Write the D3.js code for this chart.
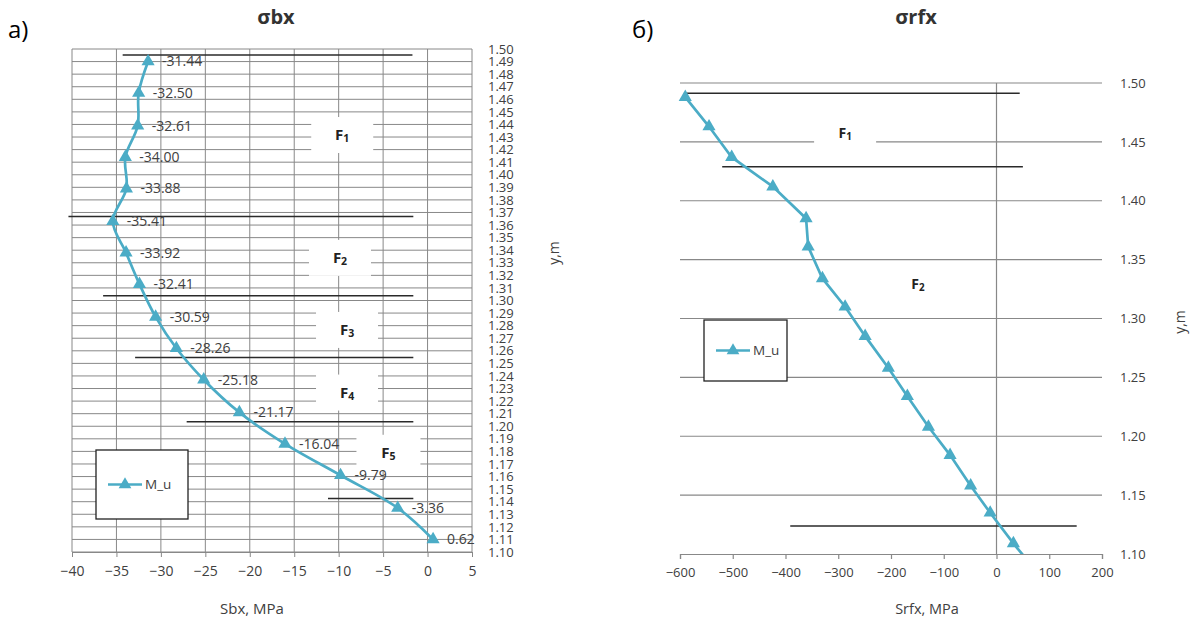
<!DOCTYPE html>
<html><head><meta charset="utf-8">
<script src="https://cdn.jsdelivr.net/npm/d3@7"></script>
<style>
body{margin:0;background:#fff;}
text{font-family:"Open Sans","DejaVu Sans",sans-serif;}
</style></head>
<body><svg id="c" width="1193" height="623"></svg>
<script>
// ---------- DATA ----------
// Left chart (σbx)
const leftY = [1.490,1.465,1.439,1.414,1.389,1.363,1.338,1.313,1.287,1.262,1.237,1.211,1.186,1.161,1.135,1.110];
const leftSbx = [-31.44,-32.50,-32.61,-34.00,-33.88,-35.41,-33.92,-32.41,-30.59,-28.26,-25.18,-21.17,-16.04,-9.79,-3.36,0.62];
const leftXTicks = [-40,-35,-30,-25,-20,-15,-10,-5,0,5];
const leftYTicks = [1.50,1.49,1.48,1.47,1.46,1.45,1.44,1.43,1.42,1.41,1.40,1.39,1.38,1.37,1.36,1.35,1.34,1.33,1.32,1.31,1.30,1.29,1.28,1.27,1.26,1.25,1.24,1.23,1.22,1.21,1.20,1.19,1.18,1.17,1.16,1.15,1.14,1.13,1.12,1.11,1.10];
const leftBounds = [
  {y:1.4952,x1:-34.3,x2:-1.7},{y:1.3667,x1:-40.4,x2:-1.6},{y:1.3037,x1:-36.5,x2:-1.6},
  {y:1.2546,x1:-32.9,x2:-1.6},{y:1.2035,x1:-27.1,x2:-1.6},{y:1.1425,x1:-11.2,x2:-1.6}];
const leftZones = [
  {n:"1",x:-9.6,y:1.4316},{n:"2",x:-9.85,y:1.3339},{n:"3",x:-9.06,y:1.2766},
  {n:"4",x:-9.06,y:1.2268},{n:"5",x:-4.4,y:1.1789}];

// Right chart (σrfx)
const rightY = [1.488,1.463,1.437,1.412,1.385,1.361,1.334,1.310,1.285,1.258,1.234,1.208,1.184,1.158,1.135,1.109,1.084];
const rightSrfx = [-590,-545,-502,-424,-361,-357,-330,-287,-249,-205,-169,-129,-88,-49,-12,32,78];
const rightXTicks = [-600,-500,-400,-300,-200,-100,0,100,200];
const rightYTicks = [1.50,1.45,1.40,1.35,1.30,1.25,1.20,1.15,1.10];
const rightBounds = [{y:1.4913,x1:-590,x2:44},{y:1.4289,x1:-520,x2:50},{y:1.1238,x1:-391,x2:152}];
const rightZones = [{n:"1",x:-287,y:1.4575},{n:"2",x:-149,y:1.3293}];

const seriesName = "M_u";
// ---------- DRAW ----------
const svg = d3.select("#c");
const COL = "#4bacc6", GRID = "#888", TXT = "#404040";

function zone(g, x, y, z, w, h, fs){
  const cx = x(z.x), cy = y(z.y);
  g.append("rect").attr("x",cx-w/2).attr("y",cy-h/2).attr("width",w).attr("height",h).attr("fill","#fff");
  const t = g.append("text").attr("x",cx).attr("y",cy).attr("dy","0.35em").attr("text-anchor","middle")
    .attr("font-size",fs).attr("font-weight","bold").attr("fill","#222");
  t.append("tspan").text("F");
  t.append("tspan").attr("font-size",fs*0.7).attr("dy",2).text(z.n);
}
function legend(g, x0, y0, w, h){
  g.append("rect").attr("x",x0).attr("y",y0).attr("width",w).attr("height",h).attr("fill","#fff").attr("stroke","#222").attr("stroke-width",1.3);
  const cy = y0+h/2;
  g.append("line").attr("x1",x0+12).attr("x2",x0+46).attr("y1",cy).attr("y2",cy).attr("stroke",COL).attr("stroke-width",2.6);
  g.append("path").attr("d",d3.symbol(d3.symbolTriangle,70)()).attr("transform",`translate(${x0+29},${cy})`).attr("fill",COL);
  g.append("text").attr("x",x0+49).attr("y",cy).attr("dy","0.35em").attr("font-size",13.5).attr("fill",TXT).text(seriesName);
}

// ===== LEFT =====
{
  const x = d3.scaleLinear().domain([-40,5]).range([72,472]);
  const y = d3.scaleLinear().domain([1.10,1.50]).range([552,49]);
  const g = svg.append("g");
  g.selectAll(".hg").data(leftYTicks).join("line").attr("x1",x(-40)).attr("x2",x(5))
    .attr("y1",d=>y(d)).attr("y2",d=>y(d)).attr("stroke",GRID).attr("stroke-width",1);
  g.selectAll(".vg").data(leftXTicks).join("line").attr("x1",d=>x(d)).attr("x2",d=>x(d))
    .attr("y1",y(1.50)).attr("y2",y(1.10)).attr("stroke",GRID).attr("stroke-width",1);
  leftZones.forEach((z,i)=>zone(g,x,y,z,i===4?64:62,36,15));
  g.selectAll(".bd").data(leftBounds).join("line").attr("x1",d=>x(d.x1)).attr("x2",d=>x(d.x2))
    .attr("y1",d=>y(d.y)).attr("y2",d=>y(d.y)).attr("stroke","#2a2a2a").attr("stroke-width",1.5);
  const ax = g.append("g").attr("transform",`translate(0,${y(1.10)})`)
    .call(d3.axisBottom(x).tickValues(leftXTicks).tickSize(5).tickPadding(9).tickFormat(d3.format("d")));
  ax.selectAll("line,path").attr("stroke",GRID);
  ax.selectAll("text").attr("font-size",14).attr("fill",TXT).attr("font-family","Open Sans");
  const ay = g.append("g").attr("transform",`translate(${x(5)},0)`)
    .call(d3.axisRight(y).tickValues(leftYTicks).tickSize(0).tickPadding(16).tickFormat(d3.format(".2f")));
  ay.select(".domain").remove();
  ay.selectAll("text").attr("font-size",13).attr("fill",TXT).attr("font-family","Open Sans");
  const pts = leftSbx.map((v,i)=>[v,leftY[i]]);
  g.append("path").datum(pts).attr("fill","none").attr("stroke",COL).attr("stroke-width",2.7)
    .attr("d",d3.line().x(d=>x(d[0])).y(d=>y(d[1])).curve(d3.curveCatmullRom.alpha(0.5)));
  g.selectAll(".mk").data(pts).join("path").attr("d",d3.symbol(d3.symbolTriangle,75)())
    .attr("transform",d=>`translate(${x(d[0])},${y(d[1])})`).attr("fill",COL);
  g.selectAll(".lb").data(pts).join("text").attr("x",d=>x(d[0])+14).attr("y",d=>y(d[1])).attr("dy","0.35em")
    .attr("font-size",14).attr("fill",TXT).text(d=>d[0].toFixed(2));
  legend(g,96,450,92,69);
  g.append("text").attr("x",252).attr("y",609).attr("dy","0.35em").attr("text-anchor","middle").attr("font-size",15).attr("fill",TXT).text("Sbx, MPa");
  g.append("text").attr("transform","translate(554,253) rotate(-90)").attr("dy","0.35em").attr("text-anchor","middle").attr("font-size",14).attr("fill",TXT).text("y,m");
  g.append("text").attr("x",276).attr("y",17).attr("dy","0.35em").attr("text-anchor","middle").attr("font-size",20).attr("font-weight","bold").attr("fill","#333").text("σbx");
  g.append("text").attr("x",8).attr("y",38).attr("font-size",24).attr("font-family","Liberation Serif").attr("fill","#000").text("а)");
}

// ===== RIGHT =====
{
  const x = d3.scaleLinear().domain([-600,200]).range([680,1102]);
  const y = d3.scaleLinear().domain([1.10,1.50]).range([554,83]);
  const g = svg.append("g");
  svg.append("defs").append("clipPath").attr("id","clipR").append("rect")
    .attr("x",x(-600)-8).attr("y",y(1.50)-8).attr("width",x(200)-x(-600)+16).attr("height",y(1.10)-y(1.50)+8);
  g.selectAll(".hg").data(rightYTicks.slice(0,-1)).join("line").attr("x1",x(-600)).attr("x2",x(200))
    .attr("y1",d=>y(d)).attr("y2",d=>y(d)).attr("stroke",GRID).attr("stroke-width",1.2);
  g.append("line").attr("x1",x(0)).attr("x2",x(0)).attr("y1",y(1.50)).attr("y2",y(1.10)).attr("stroke",GRID).attr("stroke-width",1.2);
  rightZones.forEach(z=>zone(g,x,y,z,62,26,14));
  g.selectAll(".bd").data(rightBounds).join("line").attr("x1",d=>x(d.x1)).attr("x2",d=>x(d.x2))
    .attr("y1",d=>y(d.y)).attr("y2",d=>y(d.y)).attr("stroke","#2a2a2a").attr("stroke-width",1.5);
  const ax = g.append("g").attr("transform",`translate(0,${y(1.10)})`)
    .call(d3.axisBottom(x).tickValues(rightXTicks).tickSize(5).tickPadding(9).tickFormat(d3.format("d")));
  ax.selectAll("line,path").attr("stroke",GRID).attr("stroke-width",1.2);
  ax.selectAll("text").attr("font-size",13).attr("fill",TXT).attr("font-family","Open Sans");
  const ay = g.append("g").attr("transform",`translate(${x(200)},0)`)
    .call(d3.axisRight(y).tickValues(rightYTicks).tickSize(0).tickPadding(18).tickFormat(d3.format(".2f")));
  ay.select(".domain").remove();
  ay.selectAll("text").attr("font-size",13).attr("fill",TXT).attr("font-family","Open Sans");
  const pts = rightSrfx.map((v,i)=>[v,rightY[i]]);
  const cg = g.append("g").attr("clip-path","url(#clipR)");
  cg.append("path").datum(pts).attr("fill","none").attr("stroke",COL).attr("stroke-width",2.7)
    .attr("d",d3.line().x(d=>x(d[0])).y(d=>y(d[1])));
  cg.selectAll(".mk").data(pts).join("path").attr("d",d3.symbol(d3.symbolTriangle,75)())
    .attr("transform",d=>`translate(${x(d[0])},${y(d[1])})`).attr("fill",COL);
  legend(g,704,320,83,61);
  g.append("text").attr("x",927).attr("y",609).attr("dy","0.35em").attr("text-anchor","middle").attr("font-size",14.5).attr("fill",TXT).text("Srfx, MPa");
  g.append("text").attr("transform","translate(1180,322) rotate(-90)").attr("dy","0.35em").attr("text-anchor","middle").attr("font-size",14).attr("fill",TXT).text("y,m");
  g.append("text").attr("x",916).attr("y",17).attr("dy","0.35em").attr("text-anchor","middle").attr("font-size",20).attr("font-weight","bold").attr("fill","#333").text("σrfx");
  g.append("text").attr("x",632).attr("y",38).attr("font-size",24).attr("font-family","Liberation Serif").attr("fill","#000").text("б)");
}
</script></body></html>
